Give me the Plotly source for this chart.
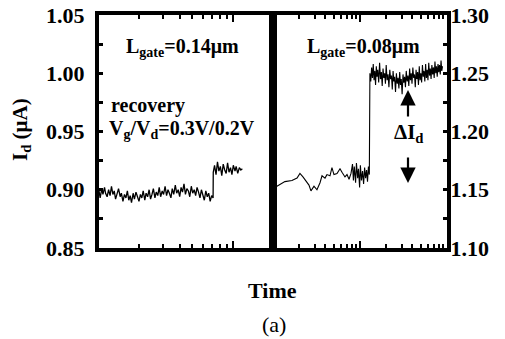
import plotly.graph_objects as go

# ---------------- data ----------------
# Left panel (Lgate = 0.14 um): time (a.u., log) and Id (uA)
t_left = [1.00,1.02,1.05,1.07,1.10,1.12,1.15,1.18,1.21,1.24,1.27,1.30,1.33,1.37,1.40,1.44,1.47,1.51,1.55,1.59,
          1.63,1.67,1.71,1.75,1.80,1.84,1.89,1.94,1.99,2.04,2.09,2.14,2.20,2.25,2.31,2.37,2.43,2.49,2.55,2.62,
          2.68,2.75,2.82,2.89,2.97,3.04,3.12,3.20,3.28,3.36,3.45,3.53,3.62,3.72,3.81,3.91,4.01,4.11,4.21,4.32,
          4.43,4.54,4.66,4.77,4.90,5.02,5.15,5.28,5.41,5.55,5.69,5.83,5.98,6.13,6.29,6.45,6.61,6.78,6.95,7.13,
          7.15,7.31,7.50,7.69,7.88,8.08,8.28,8.49,8.71,8.93,9.15,9.38,9.62,9.86,10.1,10.4,10.6,10.9,11.2,11.5,11.8]
id_left = [0.899,0.893,0.901,0.896,0.902,0.897,0.894,0.900,0.895,0.903,0.896,0.899,0.892,0.898,0.901,0.894,0.897,0.890,0.896,0.893,
           0.899,0.891,0.895,0.889,0.897,0.892,0.898,0.894,0.890,0.896,0.893,0.899,0.891,0.897,0.894,0.900,0.892,0.896,0.901,0.893,
           0.898,0.895,0.902,0.894,0.899,0.896,0.903,0.895,0.900,0.897,0.893,0.901,0.896,0.904,0.897,0.900,0.894,0.902,0.898,0.905,
           0.896,0.901,0.899,0.894,0.903,0.897,0.900,0.895,0.902,0.898,0.893,0.900,0.896,0.891,0.899,0.894,0.897,0.890,0.895,0.893,
           0.915,0.921,0.913,0.924,0.916,0.920,0.912,0.922,0.917,0.914,0.923,0.915,0.919,0.913,0.921,0.916,0.920,0.914,0.919,0.917,0.918]

# Right panel (Lgate = 0.08 um)
t_right = [1.03,1.11,1.37,1.65,1.89,2.04,2.21,2.39,2.59,2.73,2.96,3.20,3.47,3.66,3.96,4.17,4.52,4.76,5.02,5.44,
           5.89,6.21,6.72,7.09,7.48,7.88,8.2,8.4,8.6,8.9,9.1,9.4,9.6,9.9,10.1,10.4,10.7,11.0,11.3,11.6,
           11.9,12.2,12.5,12.8,
           13.0,13.3,13.6,13.9,14.2,14.5,14.8,15.1,15.4,15.7,16.0,16.4,16.8,17.2,17.6,18.0,18.4,18.8,19.2,19.6,
           20.0,20.5,21.0,21.5,22.0,22.5,23.0,23.5,24.0,24.5,25.0,25.6,26.2,26.8,27.4,28.0,28.6,29.2,29.8,30.5,
           31.2,31.9,32.6,33.3,34.0,34.8,35.6,36.4,37.2,38.0,38.8,39.6,40.5,41.4,42.3,43.2,44.1,45.0,46.0,47.0,
           48.0,49.0,50.0,51.1,52.2,53.3,54.4,55.6,56.8,58.0,59.2,60.4,61.7,63.0,64.3,65.6,67.0,68.4,69.8,71.2,
           72.7,74.2,75.7,77.2,78.8,80.4,82.0,83.7,85.4,87.1,88.8]
id_right = [1.152,1.153,1.157,1.158,1.160,1.164,1.161,1.157,1.154,1.149,1.153,1.150,1.156,1.162,1.160,1.163,1.162,1.169,1.163,1.164,
            1.168,1.165,1.161,1.163,1.159,1.164,1.172,1.158,1.170,1.156,1.173,1.160,1.168,1.152,1.171,1.158,1.166,1.155,1.169,1.160,
            1.167,1.157,1.170,1.163,
            1.250,1.243,1.255,1.246,1.258,1.244,1.252,1.240,1.256,1.247,1.253,1.242,1.259,1.245,1.251,1.239,1.254,1.246,1.250,1.241,
            1.257,1.244,1.249,1.238,1.253,1.245,1.248,1.236,1.252,1.243,1.247,1.234,1.250,1.241,1.246,1.237,1.251,1.240,1.245,1.232,
            1.249,1.242,1.247,1.238,1.252,1.243,1.248,1.239,1.254,1.244,1.250,1.241,1.255,1.246,1.249,1.238,1.253,1.245,1.251,1.240,
            1.256,1.244,1.250,1.242,1.257,1.247,1.252,1.243,1.258,1.246,1.253,1.244,1.259,1.248,1.254,1.245,1.257,1.249,1.255,1.246,
            1.260,1.250,1.256,1.247,1.258,1.251,1.257,1.249,1.261,1.252,1.256]

n_l = min(len(t_left), len(id_left))
n_r = min(len(t_right), len(id_right))
t_left, id_left = t_left[:n_l], id_left[:n_l]
t_right, id_right = t_right[:n_r], id_right[:n_r]

FONT = "'Liberation Serif', 'Times New Roman', Times, serif"
L, R, T, B = 99, 58, 15, 91
W, H = 505, 339
PW, PH = W - L - R, H - T - B

fig = go.Figure()
fig.add_trace(go.Scatter(x=t_left, y=id_left, mode="lines",
                         line=dict(color="black", width=1.3), xaxis="x", yaxis="y", showlegend=False))
fig.add_trace(go.Scatter(x=t_right, y=id_right, mode="lines",
                         line=dict(color="black", width=1.1), xaxis="x2", yaxis="y2", showlegend=False))

axis_common = dict(showline=True, linewidth=4, linecolor="black", mirror="ticks", automargin=False,
                   showgrid=False, zeroline=False, ticks="inside", tickcolor="black")

fig.update_layout(
    template="none",
    width=W, height=H,
    margin=dict(l=L, r=R, t=T, b=B, pad=0),
    paper_bgcolor="white", plot_bgcolor="white",
    font=dict(family=FONT, color="black"),
    xaxis=dict(domain=[0, 0.5], type="log", range=[0, 1.301], showticklabels=False,
               tickmode="array", tickvals=[10], ticklen=7, tickwidth=2,
               minor=dict(tickmode="array", tickvals=[2, 3, 4, 5, 6, 7, 8, 9], ticks="inside",
                          ticklen=4, tickwidth=2, tickcolor="black"),
               anchor="y", **axis_common),
    xaxis2=dict(domain=[0.5, 1], type="log", range=[0, 2], showticklabels=False,
                tickmode="array", tickvals=[10], ticklen=7, tickwidth=2,
                minor=dict(tickmode="array", tickvals=[2, 3, 4, 5, 6, 7, 8, 9, 20, 30, 40, 50, 60, 70, 80, 90],
                           ticks="inside", ticklen=4, tickwidth=2, tickcolor="black"),
                anchor="y2", **axis_common),
    yaxis=dict(range=[0.85, 1.05], tickmode="array", tickvals=[0.85, 0.90, 0.95, 1.00, 1.05],
               ticktext=["0.85", "0.90", "0.95", "1.00", "1.05"], ticklen=4, tickwidth=3,
               minor=dict(tickmode="array", tickvals=[0.875, 0.925, 0.975, 1.025], ticks="inside",
                          ticklen=4, tickwidth=3, tickcolor="black"),
               tickfont=dict(family=FONT, size=22, weight="bold"), ticklabelstandoff=6,
               anchor="x", **axis_common),
    yaxis2=dict(range=[1.10, 1.30], side="right", tickmode="array",
                tickvals=[1.10, 1.15, 1.20, 1.25, 1.30],
                ticktext=["1.10", "1.15", "1.20", "1.25", "1.30"], ticklen=4, tickwidth=3,
                minor=dict(tickmode="array", tickvals=[1.125, 1.175, 1.225, 1.275], ticks="inside",
                           ticklen=4, tickwidth=3, tickcolor="black"),
                tickfont=dict(family=FONT, size=22, weight="bold"), ticklabelstandoff=-5,
                anchor="x2", **axis_common),
)

def px2paper(px, py):
    return (px - L) / PW, 1 - (py - T) / PH

annos = [
    ("L<sub>gate</sub>=0.14μm", 182, 47, "center", 20, "bold", 0),
    ("recovery", 109, 105, "left", 20, "bold", 0),
    ("V<sub>g</sub>/V<sub>d</sub>=0.3V/0.2V", 107, 129, "left", 20, "bold", 0),
    ("L<sub>gate</sub>=0.08μm", 363, 47, "center", 20, "bold", 0),
    ("ΔI<sub>d</sub>", 409, 133, "center", 21, "bold", 0),
    ("I<sub>d</sub> (μA)", 21, 130, "center", 21, "bold", -90),
    ("Time", 272, 290, "center", 22, "bold", 0),
    ("(a)", 274, 324, "center", 22, "normal", 0),
]
for txt, px, py, align, size, wt, ang in annos:
    xx, yy = px2paper(px, py)
    fig.add_annotation(text=txt, x=xx, y=yy, xref="paper", yref="paper", showarrow=False,
                       xanchor=align, yanchor="middle", textangle=ang,
                       font=dict(family=FONT, size=size, weight=wt, color="black"))

# arrows (delta Id)
for (px, tip, tail) in [(408, 90, 118), (408, 183, 156)]:
    xt, yt = px2paper(px, tip)
    fig.add_annotation(x=xt, y=yt, xref="paper", yref="paper", text="", showarrow=True,
                       ax=0, ay=tail - tip, arrowhead=2, arrowsize=1.4, arrowwidth=2.2,
                       arrowcolor="black")

fig.write_html("out.html", config={"displayModeBar": False},
               post_script="document.body.style.margin='0';document.body.style.overflow='hidden';")
